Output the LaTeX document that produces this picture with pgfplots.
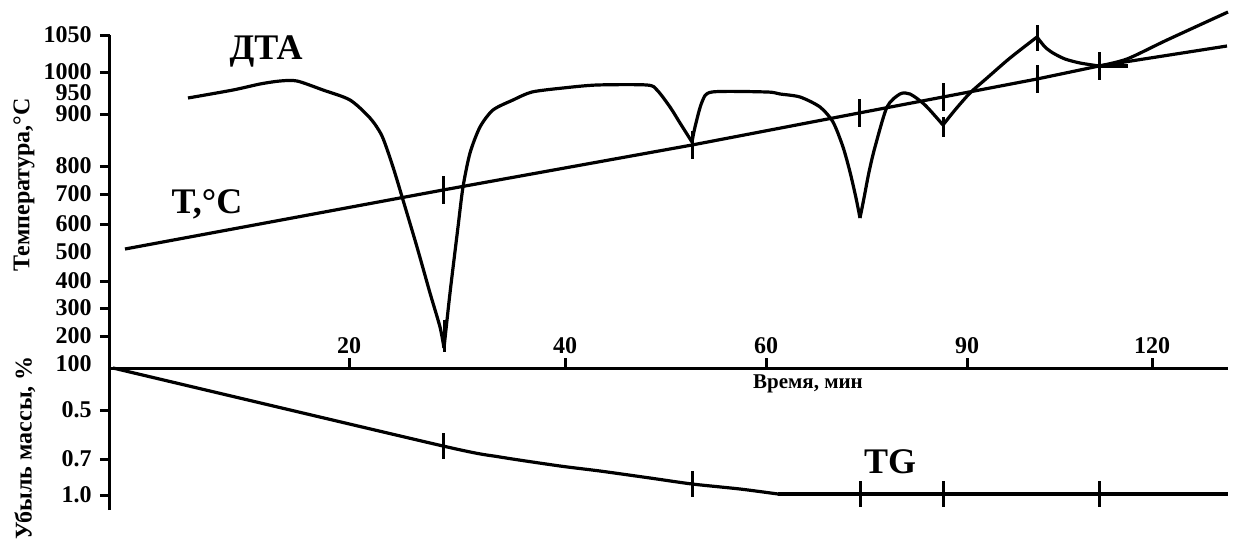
\documentclass[border=0pt]{standalone}
\usepackage{fontspec}
\setmainfont{Liberation Serif}
\usepackage{pgfplots}
\pgfplotsset{compat=1.18}
\begin{document}
\begin{tikzpicture}
\begin{axis}[
  scale only axis, width=559pt, height=237.5pt,
  xmin=110, xmax=1228, ymin=-142, ymax=333,
  axis x line=middle, axis y line=left,
  axis line style={line width=1.5pt, -},
  clip=false,
  tick align=outside,
  major tick length=5pt,
  every tick/.style={line width=1.5pt, black},
  xtick={349,565,766,967,1152},
  xticklabels={20,40,60,90,120},
  xtick style={yshift=5pt},
  x tick label style={anchor=south, yshift=8pt},
  ytick={333,296,254,202,174,144,87,60,32,-42,-91,-127},
  yticklabels={1050,1000,900,800,700,600,400,300,200,0.5,0.7,1.0},
  extra y ticks={275,116,4},
  extra y tick labels={950,500,100},
  extra y tick style={major tick length=0pt, y tick label style={xshift=-5pt}},
  ticklabel style={font=\bfseries\fontsize{12}{12}\selectfont},
  /pgf/number format/assume math mode=true,
  line width=1.6pt,
]
% invisible frame fixing the picture size
\path[draw=none] (axis cs:0,368) rectangle (axis cs:1236,-169);

% T line
\addplot[black, line width=1.6pt] coordinates {
 (125,119) (443,178) (692,223) (859,255) (943,271) (1037,289) (1099,302) (1227,322)};

% DTA curve, smooth pieces between the sharp turning points
\addplot[black, line width=1.6pt, smooth, tension=0.45] coordinates {
 (188,270) (233,278) (260,284) (280,287) (297,287) (323,278) (350,268) (370,250)
 (382,232) (393,201) (403,168) (417,121) (430,75) (440,41) (444,20)};
\addplot[black, line width=1.6pt, smooth, tension=0.45] coordinates {
 (444,20) (450,75) (458,141) (463,181) (470,215) (480,241) (493,258) (513,268) (532,276)
 (563,280) (597,283) (647,283) (657,278) (670,261) (680,245) (692,226)};
\addplot[black, line width=1.6pt, smooth, tension=0.45] coordinates {
 (692,226) (695,241) (702,266) (712,276) (767,276) (780,274) (800,271) (820,261) (833,246)
 (843,221) (850,196) (856,170) (860,150)};
\addplot[black, line width=1.6pt, smooth, tension=0.45] coordinates {
 (860,150) (864,170) (869,196) (875,221) (887,261)
 (900,274) (910,274) (925,263) (943,243)};
\addplot[black, line width=1.6pt, smooth, tension=0.45] coordinates {
 (943,243) (955,258) (970,275) (987,290) (1010,310) (1037,331)};
\addplot[black, line width=1.6pt, smooth, tension=0.45] coordinates {
 (1037,331) (1045,321) (1053,315) (1065,309) (1080,305) (1099,302)};
\addplot[black, line width=1.6pt, smooth, tension=0.45] coordinates {
 (1099,302) (1127,309) (1167,328) (1228,356)};
\addplot[black, line width=1.6pt] coordinates {(1099,302) (1128,302)};

% TG curve
\addplot[black, line width=1.6pt, smooth, tension=0.4] coordinates {
 (113,0) (443,-78) (500,-89) (560,-98) (600,-103) (650,-110) (692,-116)
 (740,-121) (778,-126)};
\addplot[black, line width=1.6pt] coordinates {(778,-126) (1228,-126)};

% marks on the curves
\addplot[black, only marks, mark=|, mark size=7pt, mark options={line width=1.5pt}] coordinates {
 (443,178) (692,223) (859,255) (943,271) (1037,289) (1099,302)};
\addplot[black, only marks, mark=|, mark size=6.5pt, mark options={line width=1.5pt}] coordinates {
 (443,-78) (692,-116) (860,-126) (943,-126) (1099,-126) (1037,330)};
\addplot[black, only marks, mark=|, mark size=8pt, mark options={line width=1.5pt}] coordinates {
 (444,32)};
\addplot[black, only marks, mark=|, mark size=5pt, mark options={line width=1.5pt}] coordinates {
 (943,241)};

% labels
\node[font=\bfseries\fontsize{18}{18}\selectfont] at (axis cs:266,317) {ДТА};
\node[font=\bfseries\fontsize{18}{18}\selectfont] at (axis cs:207,164) {T,°C};
\node[font=\bfseries\fontsize{18}{18}\selectfont] at (axis cs:890,-94) {TG};
\node[font=\bfseries\fontsize{10.5}{10.5}\selectfont] at (axis cs:808,-16) {Время, мин};
\node[font=\bfseries\fontsize{12}{12}\selectfont, rotate=90] at (axis cs:24,183) {Температура,°C};
\node[font=\bfseries\fontsize{12}{12}\selectfont, rotate=90] at (axis cs:25,-80) {Убыль массы, \%};
\end{axis}
\end{tikzpicture}
\end{document}
